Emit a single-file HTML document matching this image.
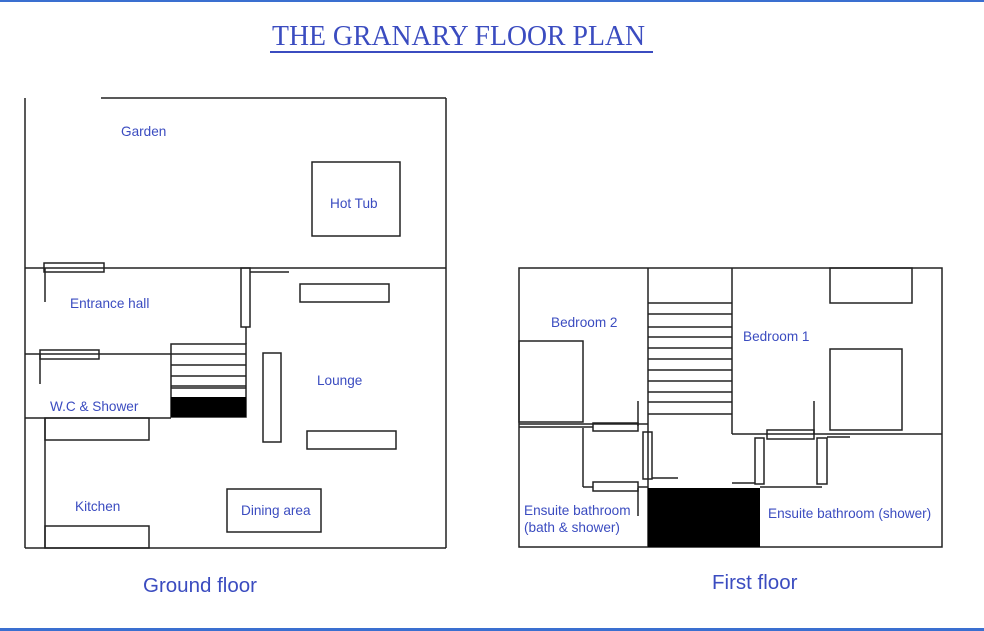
<!DOCTYPE html>
<html><head><meta charset="utf-8"><style>
html,body{margin:0;padding:0;background:#fff;}
svg{display:block;}
text{font-family:"Liberation Sans",sans-serif;fill:#3b4cc0;}
</style></head><body>
<svg width="984" height="631" viewBox="0 0 984 631" xmlns="http://www.w3.org/2000/svg">
<rect x="0" y="0" width="984" height="2" fill="#3a6fd0"/>
<rect x="0" y="628" width="984" height="3" fill="#3a6fd0"/>
<text x="272" y="45" font-size="28" textLength="373" lengthAdjust="spacingAndGlyphs" style="font-family:'Liberation Serif',serif">THE GRANARY FLOOR PLAN</text>
<rect x="270" y="51" width="383" height="2" fill="#3b4cc0"/>
<g fill="none" stroke="#222" stroke-width="1.5">
<line x1="25" y1="98" x2="25" y2="548"/>
<line x1="101" y1="98" x2="446" y2="98"/>
<line x1="446" y1="98" x2="446" y2="548"/>
<line x1="25" y1="548" x2="446" y2="548"/>
<line x1="25" y1="268" x2="446" y2="268"/>
<rect x="312" y="162" width="88" height="74"/>
<rect x="44" y="263" width="60" height="9"/>
<line x1="45" y1="268" x2="45" y2="302"/>
<rect x="241" y="268" width="9" height="59"/>
<line x1="250" y1="272" x2="289" y2="272"/>
<line x1="246" y1="327" x2="246" y2="344"/>
<rect x="300" y="284" width="89" height="18"/>
<line x1="25" y1="354" x2="171" y2="354"/>
<rect x="40" y="350" width="59" height="9"/>
<line x1="40" y1="354" x2="40" y2="384"/>
<rect x="171" y="344" width="75" height="73"/>
<line x1="171" y1="354" x2="246" y2="354"/>
<line x1="171" y1="365" x2="246" y2="365"/>
<line x1="171" y1="376" x2="246" y2="376"/>
<line x1="171" y1="386" x2="246" y2="386"/>
<line x1="171" y1="388" x2="246" y2="388"/>
<line x1="25" y1="418" x2="171" y2="418"/>
<line x1="45" y1="418" x2="45" y2="548"/>
<rect x="45" y="418" width="104" height="22"/>
<rect x="45" y="526" width="104" height="22"/>
<rect x="263" y="353" width="18" height="89"/>
<rect x="307" y="431" width="89" height="18"/>
<rect x="227" y="489" width="94" height="43"/>
<rect x="519" y="268" width="423" height="279"/>
<line x1="648" y1="268" x2="648" y2="547"/>
<line x1="732" y1="268" x2="732" y2="434"/>
<line x1="732" y1="434" x2="942" y2="434"/>
<line x1="648" y1="303" x2="732" y2="303"/>
<line x1="648" y1="314" x2="732" y2="314"/>
<line x1="648" y1="327" x2="732" y2="327"/>
<line x1="648" y1="337" x2="732" y2="337"/>
<line x1="648" y1="348" x2="732" y2="348"/>
<line x1="648" y1="359" x2="732" y2="359"/>
<line x1="648" y1="370" x2="732" y2="370"/>
<line x1="648" y1="381" x2="732" y2="381"/>
<line x1="648" y1="392" x2="732" y2="392"/>
<line x1="648" y1="402" x2="732" y2="402"/>
<line x1="648" y1="414" x2="732" y2="414"/>
<line x1="519" y1="424" x2="648" y2="424"/>
<line x1="519" y1="427" x2="593" y2="427"/>
<rect x="519" y="341" width="64" height="81"/>
<rect x="593" y="423" width="45" height="8"/>
<line x1="638" y1="401" x2="638" y2="426"/>
<line x1="583" y1="428" x2="583" y2="487"/>
<line x1="583" y1="487" x2="593" y2="487"/>
<rect x="593" y="482" width="45" height="9"/>
<line x1="638" y1="487" x2="648" y2="487"/>
<line x1="638" y1="488" x2="638" y2="516"/>
<rect x="643" y="432" width="9" height="47"/>
<line x1="652" y1="478" x2="678" y2="478"/>
<rect x="755" y="438" width="9" height="46"/>
<line x1="732" y1="483" x2="755" y2="483"/>
<line x1="760" y1="487" x2="822" y2="487"/>
<rect x="817" y="438" width="10" height="46"/>
<rect x="767" y="430" width="47" height="9"/>
<line x1="814" y1="401" x2="814" y2="434"/>
<line x1="827" y1="437" x2="850" y2="437"/>
<rect x="830" y="268" width="82" height="35"/>
<rect x="830" y="349" width="72" height="81"/>
</g>
<rect x="171" y="397" width="75" height="20" fill="#000"/>
<rect x="648" y="488" width="112" height="59" fill="#000"/>
<g font-size="13.6">
<text x="121" y="136">Garden</text>
<text x="330" y="208">Hot Tub</text>
<text x="70" y="308">Entrance hall</text>
<text x="50" y="411">W.C &amp; Shower</text>
<text x="317" y="385">Lounge</text>
<text x="75" y="511">Kitchen</text>
<text x="241" y="515">Dining area</text>
<text x="551" y="327">Bedroom 2</text>
<text x="743" y="341">Bedroom 1</text>
<text x="524" y="515">Ensuite bathroom</text>
<text x="524" y="532">(bath &amp; shower)</text>
<text x="768" y="518">Ensuite bathroom (shower)</text>
</g>
<text x="143" y="592" font-size="20.5">Ground floor</text>
<text x="712" y="589" font-size="20.5">First floor</text>
</svg>
</body></html>
